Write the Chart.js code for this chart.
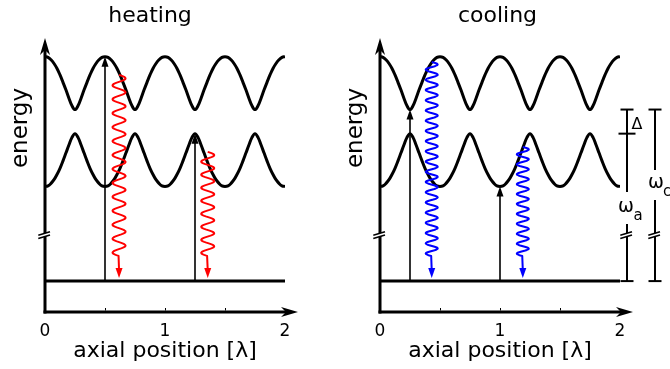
<!DOCTYPE html>
<html>
<head>
<meta charset="utf-8">
<script src="https://cdn.jsdelivr.net/npm/chart.js@4.4.1/dist/chart.umd.min.js"></script>
<style>
  html, body { margin: 0; padding: 0; background: #fff; }
  #wrap { position: relative; width: 670px; height: 369px; overflow: hidden; }
  canvas { position: absolute; top: 0; }
  #cHeat { left: 0; }
  #cCool { left: 335px; }
</style>
</head>
<body>
<div id="wrap">
  <canvas id="cHeat" width="335" height="369"></canvas>
  <canvas id="cCool" width="335" height="369"></canvas>
</div>
<script>
// ---------------- data ----------------
const panelTitles = ['heating', 'cooling'];
const yAxisTitle = 'energy';
const xAxisTitle = 'axial position [λ]';
const tickValues = [0, 1, 2];
const tickLabels = ['0', '1', '2'];

// axial positions [λ] at which the two dressed-state levels were read
const xPositions = [0,0.025,0.05,0.075,0.1,0.125,0.15,0.175,0.2,0.225,0.25,0.275,0.3,0.325,0.35,0.375,0.4,0.425,0.45,0.475,
  0.5,0.525,0.55,0.575,0.6,0.625,0.65,0.675,0.7,0.725,0.75,0.775,0.8,0.825,0.85,0.875,0.9,0.925,0.95,0.975,
  1,1.025,1.05,1.075,1.1,1.125,1.15,1.175,1.2,1.225,1.25,1.275,1.3,1.325,1.35,1.375,1.4,1.425,1.45,1.475,
  1.5,1.525,1.55,1.575,1.6,1.625,1.65,1.675,1.7,1.725,1.75,1.775,1.8,1.825,1.85,1.875,1.9,1.925,1.95,1.975,2];

// upper dressed level (energy, arbitrary units)
const upperLevel = [
  8.26,8.24,8.16,8.04,7.88,7.67,7.43,7.18,6.91,6.67,6.55,6.67,6.91,7.18,7.43,7.67,7.88,8.04,8.16,8.24,
  8.26,8.24,8.16,8.04,7.88,7.67,7.43,7.18,6.91,6.67,6.55,6.67,6.91,7.18,7.43,7.67,7.88,8.04,8.16,8.24,
  8.26,8.24,8.16,8.04,7.88,7.67,7.43,7.18,6.91,6.67,6.55,6.67,6.91,7.18,7.43,7.67,7.88,8.04,8.16,8.24,
  8.26,8.24,8.16,8.04,7.88,7.67,7.43,7.18,6.91,6.67,6.55,6.67,6.91,7.18,7.43,7.67,7.88,8.04,8.16,8.24,
  8.26];

// lower dressed level
const lowerLevel = [
  4.06,4.08,4.16,4.28,4.45,4.65,4.89,5.15,5.41,5.65,5.77,5.65,5.41,5.15,4.89,4.65,4.45,4.28,4.16,4.08,
  4.06,4.08,4.16,4.28,4.45,4.65,4.89,5.15,5.41,5.65,5.77,5.65,5.41,5.15,4.89,4.65,4.45,4.28,4.16,4.08,
  4.06,4.08,4.16,4.28,4.45,4.65,4.89,5.15,5.41,5.65,5.77,5.65,5.41,5.15,4.89,4.65,4.45,4.28,4.16,4.08,
  4.06,4.08,4.16,4.28,4.45,4.65,4.89,5.15,5.41,5.65,5.77,5.65,5.41,5.15,4.89,4.65,4.45,4.28,4.16,4.08,
  4.06];

const groundLevel = 1;
const axisBreakLevel = 2.49;
const energyMax = 8.8;

// heating: absorption (black) and emission (red)
const heatPumpX = [0.5, 1.25];
const heatPumpTop = [8.26, 5.77];
const heatEmitX = [0.617, 1.356];
const heatEmitTop = [7.67, 5.18];

// cooling: absorption (black) and emission (blue)
const coolPumpX = [0.25, 1.0];
const coolPumpTop = [6.55, 4.06];
const coolEmitX = [0.431, 1.19];
const coolEmitTop = [8.09, 5.34];

// energy-gap labels (cooling panel)
const deltaTop = 6.55;     // upper-level minimum
const deltaBottom = 5.77;  // lower-level maximum
const gapLabels = ['Δ', 'ω', 'a', 'ω', 'c'];

// ---------------- drawing ----------------
const FONT = '"DejaVu Sans", "Liberation Sans", sans-serif';

function overlay(cfg) {
  return {
    id: 'overlay_' + cfg.key,
    afterDatasetsDraw(chart) {
      const ctx = chart.ctx;
      const xs = chart.scales.x, ys = chart.scales.y;
      const X = v => xs.getPixelForValue(v);
      const Y = v => ys.getPixelForValue(v);
      const ca = chart.chartArea;
      ctx.save();
      ctx.fillStyle = '#000';
      ctx.strokeStyle = '#000';

      // title
      ctx.font = '22px ' + FONT;
      ctx.textAlign = 'center';
      ctx.textBaseline = 'alphabetic';
      ctx.fillText(cfg.title, cfg.titleX, 22);

      // y-axis label
      ctx.save();
      ctx.translate(27, 128);
      ctx.rotate(-Math.PI / 2);
      ctx.font = '23px ' + FONT;
      ctx.textAlign = 'center';
      ctx.fillText(yAxisTitle, 0, 0);
      ctx.restore();

      // axes
      const x0 = X(0), y0 = Y(0);
      ctx.lineWidth = 3;
      ctx.lineCap = 'butt';
      ctx.beginPath(); ctx.moveTo(x0, y0 + 1.5); ctx.lineTo(x0, Y(energyMax) + 10); ctx.stroke();
      ctx.beginPath(); ctx.moveTo(x0 - 1.5, y0); ctx.lineTo(X(2) + 6, y0); ctx.stroke();
      // axis arrowheads (stealth)
      const ty = Y(energyMax) - 2;
      ctx.beginPath();
      ctx.moveTo(x0, ty); ctx.lineTo(x0 + 5, ty + 17); ctx.lineTo(x0, ty + 12); ctx.lineTo(x0 - 5, ty + 17);
      ctx.closePath(); ctx.fill();
      const tx = X(2) + 13;
      ctx.beginPath();
      ctx.moveTo(tx, y0); ctx.lineTo(tx - 17, y0 - 5); ctx.lineTo(tx - 12, y0); ctx.lineTo(tx - 17, y0 + 5);
      ctx.closePath(); ctx.fill();
      // minor ticks
      ctx.lineWidth = 1;
      [0.5, 1, 1.5].forEach(v => {
        ctx.beginPath(); ctx.moveTo(Math.round(X(v)) + 0.5, y0 - 1.5); ctx.lineTo(Math.round(X(v)) + 0.5, y0 - 4); ctx.stroke();
      });

      // axis break
      drawBreak(ctx, x0, Y(axisBreakLevel));

      // absorption arrows (black)
      cfg.pumpX.forEach((px, i) => {
        const x = X(px), yb = Y(groundLevel), yt = Y(cfg.pumpTop[i]);
        ctx.strokeStyle = '#000'; ctx.fillStyle = '#000';
        ctx.lineWidth = 1.6;
        ctx.beginPath(); ctx.moveTo(x, yb); ctx.lineTo(x, yt + 8); ctx.stroke();
        ctx.beginPath(); ctx.moveTo(x, yt); ctx.lineTo(x + 3.5, yt + 10); ctx.lineTo(x - 3.5, yt + 10); ctx.closePath(); ctx.fill();
      });

      // emission (wavy) arrows
      cfg.emitX.forEach((ex, i) => {
        const cx = X(ex), ytop = Y(cfg.emitTop[i]);
        const yTip = Y(groundLevel) - 3;
        const yWaveEnd = yTip - 22;
        const L = yWaveEnd - ytop;
        const n = Math.max(1, Math.round(L / cfg.period));
        const P = L / n;
        ctx.strokeStyle = cfg.color; ctx.fillStyle = cfg.color;
        ctx.lineWidth = 2;
        ctx.lineJoin = 'round';
        ctx.beginPath();
        for (let t = 0; t <= L + 0.01; t += 0.5) {
          const x = cx + cfg.amp * Math.sin(2 * Math.PI * t / P);
          if (t === 0) ctx.moveTo(x, ytop + t); else ctx.lineTo(x, ytop + t);
        }
        ctx.lineTo(cx, yTip - 8);
        ctx.stroke();
        ctx.beginPath(); ctx.moveTo(cx, yTip); ctx.lineTo(cx + 3.5, yTip - 10); ctx.lineTo(cx - 3.5, yTip - 10); ctx.closePath(); ctx.fill();
      });

      // gap brackets
      if (cfg.brackets) {
        ctx.strokeStyle = '#000'; ctx.fillStyle = '#000';
        ctx.lineWidth = 2;
        const b1 = ca.right + 7, b2 = ca.right + 35;
        const yT = Y(deltaTop), yM = Y(deltaBottom), yG = Y(groundLevel);
        // bracket 1 (Δ and ω_a)
        ctx.beginPath(); ctx.moveTo(b1, yT); ctx.lineTo(b1, yG); ctx.stroke();
        ctx.beginPath(); ctx.moveTo(b1 - 6.5, yT); ctx.lineTo(b1 + 6.5, yT); ctx.stroke();
        ctx.beginPath(); ctx.moveTo(b1 - 8.5, yM); ctx.lineTo(b1 + 8.5, yM); ctx.stroke();
        ctx.beginPath(); ctx.moveTo(b1 - 6.5, yG); ctx.lineTo(b1 + 6.5, yG); ctx.stroke();
        // bracket 2 (ω_c)
        ctx.beginPath(); ctx.moveTo(b2, yT); ctx.lineTo(b2, yG); ctx.stroke();
        ctx.beginPath(); ctx.moveTo(b2 - 6.5, yT); ctx.lineTo(b2 + 6.5, yT); ctx.stroke();
        ctx.beginPath(); ctx.moveTo(b2 - 6.5, yG); ctx.lineTo(b2 + 6.5, yG); ctx.stroke();
        drawBreak(ctx, b1, Y(axisBreakLevel));
        drawBreak(ctx, b2, Y(axisBreakLevel));
        // labels
        ctx.textAlign = 'left'; ctx.textBaseline = 'alphabetic';
        ctx.fillStyle = '#000';
        ctx.font = '16px ' + FONT;
        ctx.fillText(gapLabels[0], b1 + 4.5, yT + 19);
        // ω_a
        ctx.fillStyle = '#fff';
        ctx.fillRect(b1 - 10, 192, 22, 32);
        ctx.fillStyle = '#000';
        ctx.font = '19px ' + FONT;
        ctx.fillText(gapLabels[1], b1 - 9, 212);
        ctx.font = '15px ' + FONT;
        ctx.fillText(gapLabels[2], b1 + 6.5, 220);
        // ω_c
        ctx.fillStyle = '#fff';
        ctx.fillRect(b2 - 8, 170, 30, 30);
        ctx.fillStyle = '#000';
        ctx.font = '19px ' + FONT;
        ctx.fillText(gapLabels[3], b2 - 7, 188);
        ctx.font = '15px ' + FONT;
        ctx.fillText(gapLabels[4], b2 + 8, 196);
      }
      ctx.restore();
    }
  };
}

function drawBreak(ctx, x, y) {
  ctx.save();
  ctx.fillStyle = '#fff';
  ctx.beginPath();
  ctx.moveTo(x - 6.7, y + 0.2);
  ctx.lineTo(x + 5, y - 3.3);
  ctx.lineTo(x + 5, y + 0);
  ctx.lineTo(x - 6.7, y + 3.5);
  ctx.closePath();
  ctx.fill();
  ctx.strokeStyle = '#000';
  ctx.lineWidth = 1.6;
  ctx.beginPath(); ctx.moveTo(x - 6.7, y + 0.2); ctx.lineTo(x + 5, y - 3.3); ctx.stroke();
  ctx.beginPath(); ctx.moveTo(x - 6.7, y + 3.5); ctx.lineTo(x + 5, y + 0); ctx.stroke();
  ctx.restore();
}

function makeChart(canvasId, cfg) {
  const curve = arr => xPositions.map((x, i) => ({ x: x, y: arr[i] }));
  return new Chart(document.getElementById(canvasId), {
    type: 'line',
    data: {
      datasets: [
        { data: curve(upperLevel), borderColor: '#000', borderWidth: 3, pointRadius: 0, tension: 0.4, fill: false },
        { data: curve(lowerLevel), borderColor: '#000', borderWidth: 3, pointRadius: 0, tension: 0.4, fill: false },
        { data: [{ x: 0, y: groundLevel }, { x: 2, y: groundLevel }], borderColor: '#000', borderWidth: 3, pointRadius: 0, fill: false }
      ]
    },
    options: {
      responsive: false,
      animation: false,
      devicePixelRatio: 1,
      events: [],
      layout: { padding: { top: 40, right: 50, left: 0, bottom: 0 } },
      plugins: { legend: { display: false }, tooltip: { enabled: false }, title: { display: false } },
      scales: {
        x: {
          type: 'linear', min: 0, max: 2,
          afterFit: s => { s.height = 57; },
          afterBuildTicks: s => { s.ticks = tickValues.map(v => ({ value: v })); },
          ticks: {
            color: '#000', padding: 9, maxRotation: 0, autoSkip: false,
            font: { family: FONT, size: 17 },
            callback: (v) => tickLabels[tickValues.indexOf(v)]
          },
          grid: { display: false, drawTicks: false },
          border: { display: false },
          title: { display: true, text: xAxisTitle, color: '#000', font: { family: FONT, size: 22 }, padding: { top: 0, bottom: 5 } }
        },
        y: {
          type: 'linear', min: 0, max: energyMax,
          afterFit: s => { s.width = 45; },
          ticks: { display: false },
          grid: { display: false, drawTicks: false },
          border: { display: false }
        }
      }
    },
    plugins: [overlay(cfg)]
  });
}

makeChart('cHeat', {
  key: 'heat', title: panelTitles[0], titleX: 150,
  pumpX: heatPumpX, pumpTop: heatPumpTop, emitX: heatEmitX, emitTop: heatEmitTop,
  color: '#ff0000', period: 13.8, amp: 6.5, brackets: false
});
makeChart('cCool', {
  key: 'cool', title: panelTitles[1], titleX: 162.5,
  pumpX: coolPumpX, pumpTop: coolPumpTop, emitX: coolEmitX, emitTop: coolEmitTop,
  color: '#0000ff', period: 10, amp: 6, brackets: true
});
</script>
</body>
</html>
